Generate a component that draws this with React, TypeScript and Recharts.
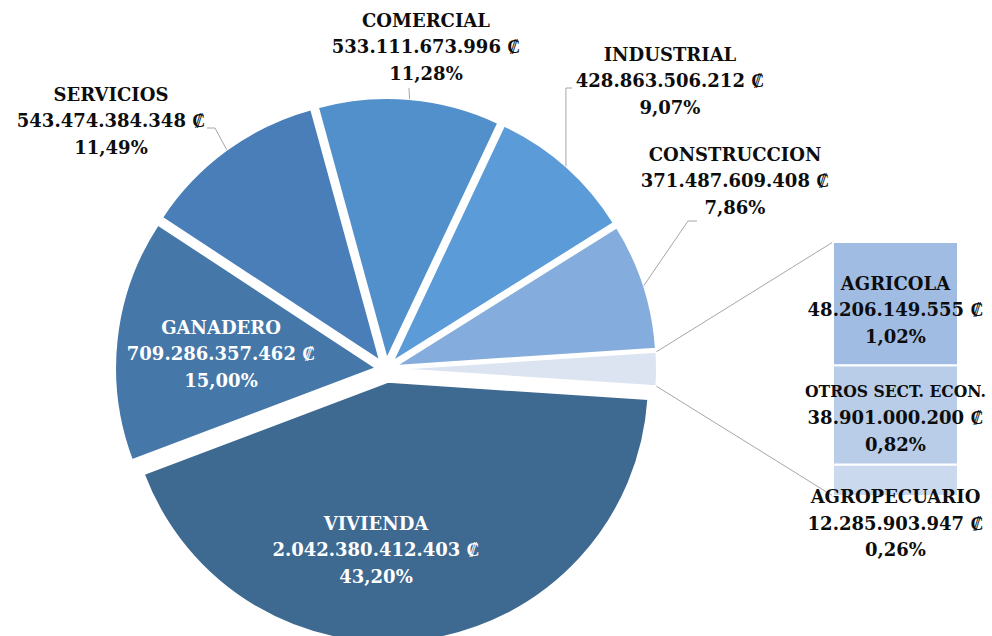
import React from 'react';
import { PieChart, Pie, Cell, BarChart, Bar, XAxis, YAxis, LabelList } from 'recharts';

// ---------- data ----------
const mainCategories = ['VIVIENDA', 'GANADERO', 'SERVICIOS', 'COMERCIAL', 'INDUSTRIAL', 'CONSTRUCCION'];
const mainValues = [2042380412403, 709286357462, 543474384348, 533111673996, 428863506212, 371487609408];
const otherCategories = ['AGRICOLA', 'OTROS SECT. ECON.', 'AGROPECUARIO'];
const otherValues = [48206149555, 38901000200, 12285903947];

// ---------- styles / layout ----------
const W = 992;
const H = 636;
const FONT = "'DejaVu Serif', serif";
const FONT_SIZE = 18;
const LINE = 26.5;
const DARK = '#0D0D0D';
const LEADER = '#A6A6A6';

const otherSliceColor = '#DCE4F2';
const mainColors = ['#3E6990', '#4577A8', '#4A7EB8', '#5290CB', '#5A9BD8', '#84ACDC'];
const otherColors = ['#A1BCE2', '#B9CDE8', '#CBD9EE'];

const PIE_CX = 386;
const PIE_CY = 369;
const PIE_R = 261;
const EXPLODE_OTHER = 10;
const EXPLODE_MAIN = [13, 10, 10, 10, 10, 10];

const BAR_BOX = { left: 833, top: 242, width: 125, height: 254 };
// vertical shift of bar label blocks from segment centre (same order as otherCategories)
const BAR_LABEL_SHIFT = [6, 3, 43];
// right-side margin kept free of text
const EDGE_PAD = 6;

type LabelLayout = { x: number; y: number; color: string; leader?: number[][]; elbowFromEdge?: boolean };
const LABEL_LAYOUT: Record<string, LabelLayout> = {
  VIVIENDA: { x: 376, y: 550, color: '#FFFFFF' },
  GANADERO: { x: 221, y: 354, color: '#FFFFFF' },
  SERVICIOS: { x: 111, y: 121, color: DARK, leader: [[215, 128], [207, 128]] },
  COMERCIAL: { x: 426, y: 47, color: DARK, leader: [[409, 88]] },
  INDUSTRIAL: { x: 670, y: 81, color: DARK, leader: [[572, 88]], elbowFromEdge: true },
  CONSTRUCCION: { x: 735, y: 181, color: DARK, leader: [[688, 221], [697, 221]] },
};

// ---------- helpers ----------
const RAD = Math.PI / 180;
const otherTotal = otherValues.reduce((a, b) => a + b, 0);
const grandTotal = mainValues.reduce((a, b) => a + b, 0) + otherTotal;

const fmtMoney = (v: number) => String(v).replace(/\B(?=(\d{3})+(?!\d))/g, '.') + ' \u20A1';
const fmtPct = (v: number) => ((v / grandTotal) * 100).toFixed(2).replace('.', ',') + '%';

const pieNames = ['OTROS', ...mainCategories];
const pieValues = [otherTotal, ...mainValues];
const pieColors = [otherSliceColor, ...mainColors];
const pieExplode = [EXPLODE_OTHER, ...EXPLODE_MAIN];
const pieData = pieNames.map((name, i) => ({ name, value: pieValues[i] }));

const halfOther = ((otherTotal / grandTotal) * 360) / 2;
const START = halfOther;
const END = halfOther - 360;

// mid angle of each slice (recharts convention)
const midAngles: number[] = (() => {
  let cum = 0;
  return pieValues.map((v) => {
    const m = START - ((cum + v / 2) / grandTotal) * 360;
    cum += v;
    return m;
  });
})();

const barRow: Record<string, number | string> = { k: 'otros' };
otherValues.forEach((v, i) => {
  barRow['s' + i] = v;
});

// rough width estimate (DejaVu Serif Bold) for lines that would leave the canvas
const estWidth = (s: string) => {
  let w = 0;
  for (const ch of s) {
    if (ch >= '0' && ch <= '9') w += 0.696;
    else if (ch === '.' || ch === ',') w += 0.38;
    else if (ch === ' ') w += 0.348;
    else if (ch >= 'A' && ch <= 'Z') w += 0.8;
    else w += 0.7;
  }
  return w * FONT_SIZE;
};

function TextBlock({ x, y, lines, color }: { x: number; y: number; lines: string[]; color: string }) {
  return (
    <g>
      {lines.map((l, i) => {
        const est = estWidth(l);
        const maxW = 2 * (W - EDGE_PAD - x);
        const tooLong = est > maxW;
        const fs = tooLong ? Math.max(16, (FONT_SIZE * maxW) / est) : FONT_SIZE;
        return (
          <text
            key={i}
            x={x}
            y={y + (i - (lines.length - 1) / 2) * LINE}
            dy="0.36em"
            textAnchor="middle"
            fontFamily={FONT}
            fontWeight="bold"
            fontSize={fs}
            fill={color}
            {...(tooLong ? { textLength: maxW, lengthAdjust: 'spacingAndGlyphs' } : {})}
          >
            {l}
          </text>
        );
      })}
    </g>
  );
}

function makePieLabel(sliceIndex: number) {
  return (props: any) => {
    const idx = props.index !== undefined ? props.index : pieNames.indexOf(props.name);
    if (idx !== sliceIndex) return null;
    const cx = Number(props.cx);
    const cy = Number(props.cy);
    const r = Number(props.outerRadius);
    const mid = Number(props.midAngle);
    if (sliceIndex === 0) {
      // connectors from the "other" slice to the bar
      const a1 = (mid + halfOther) * RAD;
      const a2 = (mid - halfOther) * RAD;
      const p1 = [cx + r * Math.cos(a1), cy - r * Math.sin(a1)];
      const p2 = [cx + r * Math.cos(a2), cy - r * Math.sin(a2)];
      return (
        <g>
          <line x1={p1[0]} y1={p1[1]} x2={BAR_BOX.left} y2={BAR_BOX.top} stroke={LEADER} strokeWidth={1} />
          <line
            x1={p2[0]}
            y1={p2[1]}
            x2={BAR_BOX.left}
            y2={BAR_BOX.top + BAR_BOX.height}
            stroke={LEADER}
            strokeWidth={1}
          />
        </g>
      );
    }
    const name = pieNames[sliceIndex];
    const lay = LABEL_LAYOUT[name];
    const value = pieValues[sliceIndex];
    let leader = null;
    if (lay.leader) {
      const edge = [cx + r * Math.cos(mid * RAD), cy - r * Math.sin(mid * RAD)];
      const pts = [edge];
      if (lay.elbowFromEdge) pts.push([edge[0], lay.leader[0][1]]);
      lay.leader.forEach((p) => pts.push(p));
      leader = (
        <polyline points={pts.map((p) => p.join(',')).join(' ')} fill="none" stroke={LEADER} strokeWidth={1} />
      );
    }
    return (
      <g>
        {leader}
        <TextBlock x={lay.x} y={lay.y} lines={[name, fmtMoney(value), fmtPct(value)]} color={lay.color} />
      </g>
    );
  };
}

function makeBarLabel(seriesIndex: number) {
  return (props: any) => {
    const x = Number(props.x);
    const y = Number(props.y);
    const w = Number(props.width);
    const h = Number(props.height);
    const v = otherValues[seriesIndex];
    return (
      <TextBlock
        x={x + w / 2}
        y={y + h / 2 + BAR_LABEL_SHIFT[seriesIndex]}
        lines={[otherCategories[seriesIndex], fmtMoney(v), fmtPct(v)]}
        color={DARK}
      />
    );
  };
}

export default function App() {
  return (
    <div style={{ position: 'absolute', left: 0, top: 0, width: W, height: H, background: '#fff', overflow: 'hidden' }}>
      <div style={{ position: 'absolute', left: 0, top: 0 }}>
        <PieChart width={W} height={H} margin={{ top: 0, right: 0, bottom: 0, left: 0 }}>
          {pieData.map((_, s) => {
            const e = pieExplode[s];
            const dx = e * Math.cos(midAngles[s] * RAD);
            const dy = -e * Math.sin(midAngles[s] * RAD);
            return (
              <Pie
                key={s}
                data={pieData}
                dataKey="value"
                nameKey="name"
                cx={PIE_CX + dx}
                cy={PIE_CY + dy}
                outerRadius={PIE_R}
                innerRadius={0}
                startAngle={START}
                endAngle={END}
                isAnimationActive={false}
                labelLine={false}
                label={makePieLabel(s)}
              >
                {pieData.map((__, i) => (
                  <Cell
                    key={i}
                    fill={i === s ? pieColors[i] : 'none'}
                    stroke={i === s ? '#FFFFFF' : 'none'}
                    strokeWidth={i === s ? 2 : 0}
                  />
                ))}
              </Pie>
            );
          })}
        </PieChart>
      </div>
      <div style={{ position: 'absolute', left: 0, top: 0 }}>
        <BarChart
          width={W}
          height={H}
          data={[barRow]}
          margin={{
            top: BAR_BOX.top,
            left: BAR_BOX.left,
            right: W - BAR_BOX.left - BAR_BOX.width,
            bottom: H - BAR_BOX.top - BAR_BOX.height,
          }}
          barCategoryGap={0}
          barGap={0}
        >
          <XAxis dataKey="k" hide />
          <YAxis hide type="number" domain={[0, otherTotal]} allowDataOverflow />
          {[2, 1, 0].map((i) => (
            <Bar
              key={i}
              dataKey={'s' + i}
              stackId="o"
              fill={otherColors[i]}
              stroke="#FFFFFF"
              strokeWidth={2}
              isAnimationActive={false}
            >
              <LabelList dataKey={'s' + i} content={makeBarLabel(i)} />
            </Bar>
          ))}
        </BarChart>
      </div>
    </div>
  );
}
